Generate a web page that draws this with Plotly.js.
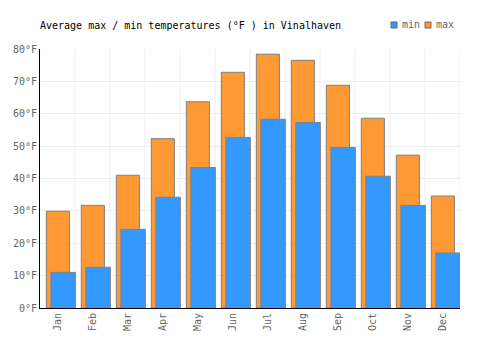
<!DOCTYPE html>
<html><head><meta charset="utf-8">
<script src="https://cdn.plot.ly/plotly-3.0.1.min.js"></script>
<style>html,body{margin:0;padding:0;background:#fff}#chart{width:500px;height:350px}</style>
</head><body><div id="chart"></div>
<script>
var months = ["Jan","Feb","Mar","Apr","May","Jun","Jul","Aug","Sep","Oct","Nov","Dec"];
var minTemps = [11.0, 12.6, 24.3, 34.2, 43.4, 52.7, 58.3, 57.3, 49.6, 40.7, 31.7, 17.0];
var maxTemps = [29.9, 31.7, 41.0, 52.3, 63.7, 72.8, 78.4, 76.5, 68.8, 58.6, 47.2, 34.6];
var yTicks = [0,10,20,30,40,50,60,70,80];
var yTickText = ["0°F","10°F","20°F","30°F","40°F","50°F","60°F","70°F","80°F"];
var seriesNames = ["min","max"];
var seriesColors = ["#3399FF","#FF9933"];

var font = "DejaVu Sans Mono, monospace";
var traces = [
  {type:"bar", name:"max", x:months, y:maxTemps, offset:-0.32, width:0.66, showlegend:false,
   marker:{color:seriesColors[1], line:{color:"#808080", width:1}}, hoverinfo:"none"},
  {type:"bar", name:"min", x:months, y:minTemps, offset:-0.19, width:0.70, showlegend:false,
   marker:{color:seriesColors[0], line:{color:"#808080", width:1}}, hoverinfo:"none"}
];
var legX = [391, 425];
var shapes = months.map(function(m,i){return {type:"line", xref:"x", yref:"paper", x0:i+0.5, x1:i+0.5, y0:0, y1:1,
          line:{color:"#eeeeee", width:1}, layer:"below"};});
var annotations = [];
seriesNames.forEach(function(n,i){
  shapes.push({type:"rect", xref:"paper", yref:"paper",
    x0:(legX[i]-40)/420, x1:(legX[i]+6-40)/420, y0:(308-28)/259, y1:(308-22)/259,
    fillcolor:seriesColors[i], line:{color:"#666", width:1}});
  annotations.push({text:n, xref:"paper", yref:"paper", x:(legX[i]+9-40)/420, y:(308-25)/259,
    xanchor:"left", yanchor:"middle", showarrow:false, font:{family:font,size:10,color:"#666"}});
});
var layout = {
  width:500, height:350,
  margin:{l:40, r:40, t:49, b:42},
  paper_bgcolor:"#fff", plot_bgcolor:"#fff",
  barmode:"overlay",
  font:{family:font, size:10, color:"#666"},
  title:{text:"Average max / min temperatures (°F ) in Vinalhaven", font:{family:font, size:10, color:"#000"},
         x:40/500, xanchor:"left", xref:"container", y:1-25/350, yanchor:"middle", yref:"container"},
  showlegend:false,
  xaxis:{type:"category", range:[-0.5,11.5], showgrid:false, tickangle:-90,
         showline:true, linecolor:"#000", linewidth:1, ticks:"", tickfont:{family:font,size:10,color:"#666"}},
  yaxis:{range:[0,80], tickmode:"array", tickvals:yTicks, ticktext:yTickText, showgrid:true, gridcolor:"#eeeeee",
         showline:true, linecolor:"#000", linewidth:1, ticks:"", zeroline:false,
         tickfont:{family:font,size:10,color:"#666"}},
  shapes: shapes,
  annotations: annotations
};
Plotly.newPlot("chart", traces, layout, {staticPlot:true});
</script></body></html>
